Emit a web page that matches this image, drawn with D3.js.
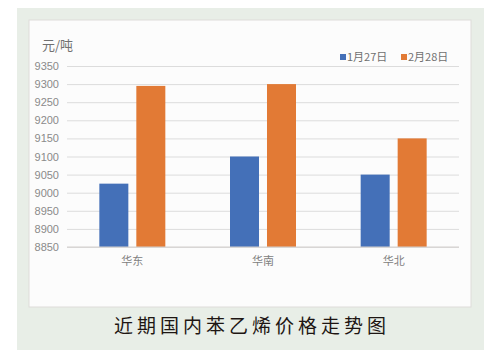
<!DOCTYPE html>
<html>
<head>
<meta charset="utf-8">
<script src="https://cdn.jsdelivr.net/npm/d3@7.9.0/dist/d3.min.js"></script>
<style>
  body { margin: 0; background: #fff; }
  svg { display: block; font-family: "Noto Sans CJK SC", "Liberation Sans", sans-serif; }
</style>
</head>
<body>
<svg id="chart" width="491" height="362"></svg>
<script>
// chart data
const regions = ["华东", "华南", "华北"];
const seriesNames = ["1月27日", "2月28日"];
const jan27 = [9025, 9100, 9050];
const feb28 = [9295, 9300, 9150];
const yTicks = [8850, 8900, 8950, 9000, 9050, 9100, 9150, 9200, 9250, 9300, 9350];
const colors = ["#4470b8", "#e27a35"];

const svg = d3.select("#chart");

// outer backdrop and white panel
svg.append("rect").attr("x", 17).attr("y", 8).attr("width", 467).attr("height", 342)
  .attr("fill", "#e8eee7");
svg.append("rect").attr("x", 29).attr("y", 20).attr("width", 442).attr("height", 287)
  .attr("fill", "#fcfcfc").attr("stroke", "#dedcda").attr("stroke-width", 1);

const plotL = 67, plotR = 459, plotT = 66, plotB = 247;

const y = d3.scaleLinear().domain([8850, 9350]).range([plotB, plotT]);
const x0 = d3.scaleBand().domain(regions).range([plotL, plotR])
  .paddingInner(0.495).paddingOuter(0.2475);
const x1 = d3.scaleBand().domain(seriesNames).range([0, x0.bandwidth()])
  .paddingInner(0.216);

// gridlines + y labels
const yAxis = svg.append("g")
  .attr("transform", `translate(${plotL},0)`)
  .call(d3.axisLeft(y).tickValues(yTicks).tickFormat(d3.format("d"))
    .tickSize(-(plotR - plotL)).tickPadding(8));
yAxis.select(".domain").remove();
yAxis.selectAll(".tick line").attr("stroke", "#dcdcdc").attr("stroke-width", 1);
yAxis.selectAll(".tick text").attr("fill", "#8a8a8a").attr("font-size", 11)
  .attr("font-family", "Liberation Sans, sans-serif");

// bars
const rows = regions.map((r, i) => ({ region: r, values: [jan27[i], feb28[i]] }));
const groups = svg.append("g").selectAll("g").data(rows).join("g")
  .attr("transform", d => `translate(${x0(d.region)},0)`);
groups.selectAll("rect")
  .data(d => d.values.map((v, j) => ({ key: seriesNames[j], v, j })))
  .join("rect")
  .attr("x", d => x1(d.key))
  .attr("width", x1.bandwidth())
  .attr("y", d => y(d.v))
  .attr("height", d => plotB - y(d.v))
  .attr("fill", d => colors[d.j]);

// baseline
svg.append("line").attr("x1", plotL).attr("x2", plotR).attr("y1", plotB).attr("y2", plotB)
  .attr("stroke", "#d4d0ce");

// category labels
const xAxis = svg.append("g")
  .attr("transform", `translate(0,${plotB})`)
  .call(d3.axisBottom(x0).tickSize(0).tickPadding(10));
xAxis.select(".domain").remove();
xAxis.selectAll(".tick text").attr("fill", "#808080").attr("font-size", 11)
  .attr("font-family", "Noto Sans CJK SC, sans-serif");

// unit label
svg.append("text").attr("x", 42).attr("y", 50).text("元/吨")
  .attr("fill", "#707070").attr("font-size", 13);

// legend
const legendX = [340, 401];
const legend = svg.append("g").selectAll("g").data(seriesNames).join("g")
  .attr("transform", (d, i) => `translate(${legendX[i]},57)`);
legend.append("rect").attr("x", 0).attr("y", -3).attr("width", 6).attr("height", 6)
  .attr("fill", (d, i) => colors[i]);
legend.append("text").attr("x", 7).attr("y", 4).text(d => d)
  .attr("fill", "#707070").attr("font-size", 11);

// title
svg.append("text").attr("x", 252).attr("y", 333).attr("text-anchor", "middle")
  .text("近期国内苯乙烯价格走势图")
  .attr("fill", "#1e1613").attr("font-size", 19).attr("letter-spacing", 4);
</script>
</body>
</html>
